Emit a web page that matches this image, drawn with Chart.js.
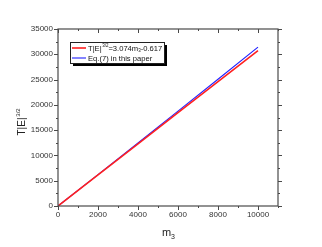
<!DOCTYPE html>
<html>
<head>
<meta charset="utf-8">
<script src="https://cdn.jsdelivr.net/npm/chart.js@4/dist/chart.umd.min.js"></script>
<style>
  html, body { margin: 0; padding: 0; background: #fff; }
  #wrap { width: 322px; height: 247px; }
</style>
</head>
<body>
<div id="wrap"><canvas id="chart" width="322" height="247"></canvas></div>
<script>
// данные
const m3 = [0, 2000, 4000, 6000, 8000, 10000];
const fitValues = [0, 6147, 12295, 18443, 24591, 30739];   // T|E|^{3/2}=3.074m3-0.617
const eq7Values = [0, 6200, 12460, 18760, 25070, 31420];   // Eq.(7)
const xTicks = [0, 2000, 4000, 6000, 8000, 10000];
const yTicks = [0, 5000, 10000, 15000, 20000, 25000, 30000, 35000];

const FONT = '"Liberation Sans", Arial, sans-serif';
const AXIS = '#4a4a4a';

const toPoints = vals => m3.map((x, i) => ({ x: x, y: vals[i] }));

// рамка, засечки, подписи осей и легенда
const framePlugin = {
    id: 'frame',
    afterDraw(chart) {
        const ctx = chart.ctx;
        const a = chart.chartArea;
        const xs = chart.scales.x, ys = chart.scales.y;
        ctx.save();
        ctx.strokeStyle = AXIS;
        ctx.lineWidth = 1.2;
        ctx.strokeRect(a.left, a.top, a.right - a.left, a.bottom - a.top);

        ctx.lineWidth = 1;
        ctx.beginPath();
        for (let v = 0; v <= 11000; v += 1000) {
            const px = Math.round(xs.getPixelForValue(v)) + 0.5;
            const len = v % 2000 === 0 ? 4 : 2;
            ctx.moveTo(px, a.bottom); ctx.lineTo(px, a.bottom + len);
            ctx.moveTo(px, a.top); ctx.lineTo(px, a.top + len);
        }
        for (let v = 0; v <= 35000; v += 2500) {
            const py = Math.round(ys.getPixelForValue(v)) + 0.5;
            const len = v % 5000 === 0 ? 4 : 2;
            ctx.moveTo(a.left, py); ctx.lineTo(a.left - len, py);
            ctx.moveTo(a.right, py); ctx.lineTo(a.right + len, py);
        }
        ctx.stroke();

        // подпись оси X: m_3
        ctx.fillStyle = '#222';
        ctx.textBaseline = 'alphabetic';
        ctx.font = '11px ' + FONT;
        const cx = (a.left + a.right) / 2;
        ctx.textAlign = 'left';
        ctx.fillText('m', cx - 6, 236);
        ctx.font = '7px ' + FONT;
        ctx.fillText('3', cx + 3, 239);

        // подпись оси Y: T|E|^{3/2}
        ctx.save();
        ctx.translate(25, (a.top + a.bottom) / 2 + 5);
        ctx.rotate(-Math.PI / 2);
        ctx.font = '10px ' + FONT;
        ctx.textAlign = 'center';
        ctx.fillText('T|E|', -4, 0);
        ctx.font = '6px ' + FONT;
        ctx.fillText('3/2', 10, -5);
        ctx.restore();

        // легенда с тенью
        const lx = 70, ly = 42, lw = 94, lh = 21;
        ctx.fillStyle = '#000';
        ctx.fillRect(lx + 3, ly + 3, lw, lh);
        ctx.fillStyle = '#fff';
        ctx.fillRect(lx, ly, lw, lh);
        ctx.strokeStyle = '#222';
        ctx.lineWidth = 1;
        ctx.strokeRect(lx + 0.5, ly + 0.5, lw, lh);

        const rows = [
            { color: '#ff2020', width: 1.6, y: 48 },
            { color: '#2020ff', width: 1.1, y: 58 }
        ];
        rows.forEach(r => {
            ctx.strokeStyle = r.color;
            ctx.lineWidth = r.width;
            ctx.beginPath();
            ctx.moveTo(72, r.y); ctx.lineTo(86, r.y);
            ctx.stroke();
        });
        ctx.fillStyle = '#111';
        ctx.textAlign = 'left';
        ctx.textBaseline = 'middle';
        let tx = 88;
        const big = '7.6px ' + FONT, small = '4.5px ' + FONT;
        ctx.font = big;
        ctx.fillText('T|E|', tx, 48.5); tx += ctx.measureText('T|E|').width + 0.5;
        ctx.font = small;
        ctx.fillText('3/2', tx, 46); tx += ctx.measureText('3/2').width;
        ctx.font = big;
        ctx.fillText('=3.074m', tx, 48.5); tx += ctx.measureText('=3.074m').width;
        ctx.font = small;
        ctx.fillText('3', tx, 51); tx += ctx.measureText('3').width;
        ctx.font = big;
        ctx.fillText('-0.617', tx, 48.5);
        ctx.fillText('Eq.(7) in this paper', 88, 58.5);
        ctx.restore();
    }
};

new Chart(document.getElementById('chart'), {
    type: 'line',
    data: {
        datasets: [
            {
                label: 'fit',
                data: toPoints(fitValues),
                borderColor: '#ff2020',
                borderWidth: 1.6,
                pointRadius: 0,
                tension: 0
            },
            {
                label: 'Eq.(7)',
                data: toPoints(eq7Values),
                borderColor: '#2020ff',
                borderWidth: 1.1,
                pointRadius: 0,
                tension: 0
            }
        ]
    },
    options: {
        responsive: false,
        animation: false,
        layout: { padding: { left: 0, right: 44, top: 29, bottom: 0 } },
        plugins: {
            legend: { display: false },
            tooltip: { enabled: false }
        },
        scales: {
            x: {
                type: 'linear',
                min: 0,
                max: 11000,
                grid: { display: false, drawTicks: false },
                border: { display: false },
                afterFit: s => { s.height = 41; },
                afterBuildTicks: s => { s.ticks = xTicks.map(v => ({ value: v })); },
                ticks: {
                    padding: 4,
                    maxRotation: 0,
                    color: '#333',
                    font: { family: FONT, size: 8 },
                    callback: v => String(v)
                }
            },
            y: {
                type: 'linear',
                min: 0,
                max: 35000,
                grid: { display: false, drawTicks: false },
                border: { display: false },
                afterFit: s => { s.width = 58; },
                afterBuildTicks: s => { s.ticks = yTicks.map(v => ({ value: v })); },
                ticks: {
                    padding: 5,
                    color: '#333',
                    font: { family: FONT, size: 8 },
                    callback: v => String(v)
                }
            }
        }
    },
    plugins: [framePlugin]
});
</script>
</body>
</html>
